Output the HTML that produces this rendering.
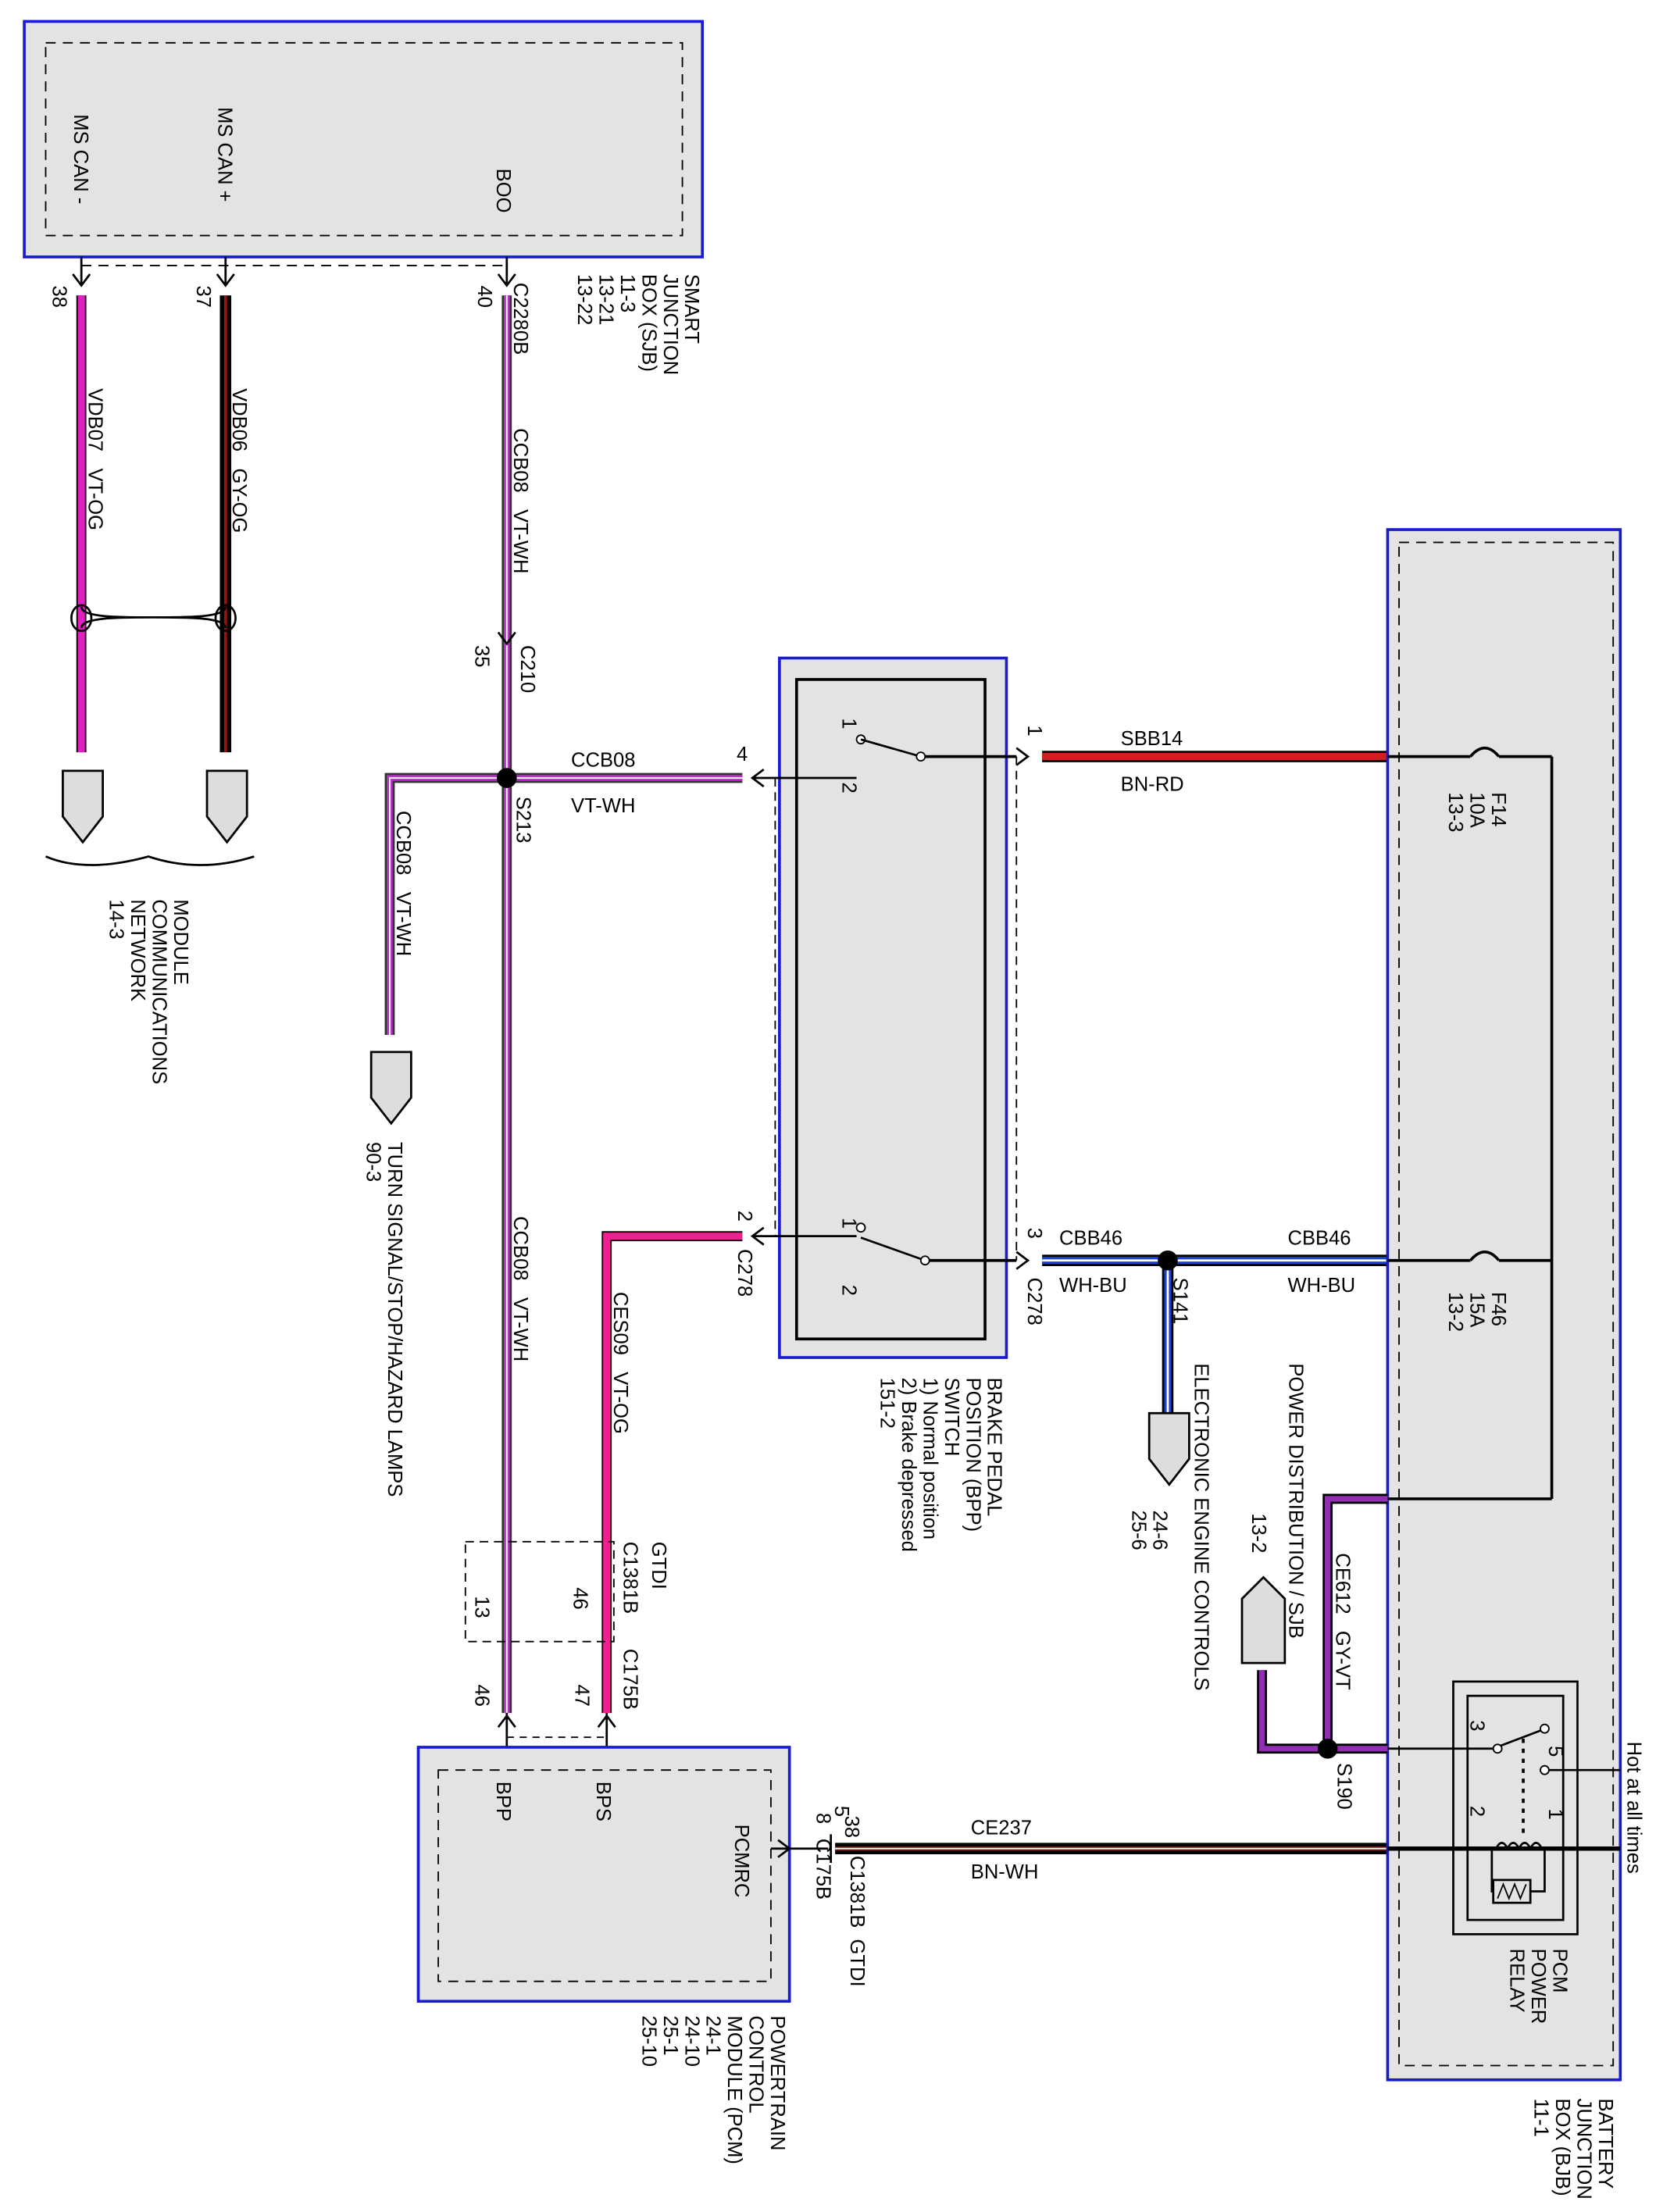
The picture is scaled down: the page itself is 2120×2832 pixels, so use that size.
<!DOCTYPE html>
<html><head><meta charset="utf-8"><style>
html,body{margin:0;padding:0;background:#fff;}
svg{display:block;}
text{font-family:"Liberation Sans",Arial,sans-serif;font-size:14px;fill:#000;white-space:pre;}
</style></head><body>
<svg width="2120" height="2832" viewBox="0 0 1160 1549.6" preserveAspectRatio="none" xmlns="http://www.w3.org/2000/svg">
<defs>
<g id="conn"><path d="M0,0 L28,0 L28,32 L14,50 L0,32 Z" fill="#ddd" stroke="#000" stroke-width="1.5"/></g>
</defs>
<!-- SJB -->
<rect x="17" y="15" width="475" height="165" fill="#e3e3e3" stroke="#1a1ad0" stroke-width="2"/>
<rect x="32" y="30" width="446" height="135" fill="none" stroke="#000" stroke-dasharray="7,5"/>
<line x1="57" y1="186" x2="355" y2="186" stroke="#000" stroke-dasharray="7,5"/>
<line x1="57" y1="180" x2="57" y2="200" stroke="#000" stroke-width="1.5"/>
<line x1="158" y1="180" x2="158" y2="200" stroke="#000" stroke-width="1.5"/>
<line x1="355" y1="180" x2="355" y2="200" stroke="#000" stroke-width="1.5"/>
<path d="M51,192 L57,200 L63,192 M152,192 L158,200 L164,192 M349,192 L355,200 L361,192" fill="none" stroke="#000" stroke-width="1.5"/>
<text transform="translate(52,80) rotate(90)">MS CAN -</text>
<text transform="translate(153,75) rotate(90)">MS CAN +</text>
<text transform="translate(348,118) rotate(90)">BOO</text>
<g transform="translate(480,192) rotate(90)"><text>SMART</text><text y="15">JUNCTION</text><text y="30">BOX (SJB)</text><text y="45">11-3</text><text y="60">13-21</text><text y="75">13-22</text></g>
<text transform="translate(37,200) rotate(90)">38</text>
<text transform="translate(138,200) rotate(90)">37</text>
<text transform="translate(335,200) rotate(90)">40</text>
<text transform="translate(360,198) rotate(90)">C2280B</text>
<!-- wires left -->
<line x1="57" y1="207" x2="57" y2="527" stroke="#000" stroke-width="7"/>
<line x1="57" y1="207" x2="57" y2="527" stroke="#e020c0" stroke-width="5"/>
<line x1="158" y1="207" x2="158" y2="527" stroke="#000" stroke-width="8"/>
<line x1="158" y1="207" x2="158" y2="527" stroke="#a01010" stroke-width="2"/>
<path d="M57,425 C57,440 158,425 158,440 M57,440 C57,425 158,440 158,425" fill="none" stroke="#000" stroke-width="1.5"/>
<ellipse cx="57" cy="433" rx="7" ry="9" fill="none" stroke="#000" stroke-width="1.5"/>
<ellipse cx="158" cy="433" rx="7" ry="9" fill="none" stroke="#000" stroke-width="1.5"/>
<text transform="translate(62,272) rotate(90)">VDB07   VT-OG</text>
<text transform="translate(163,272) rotate(90)">VDB06   GY-OG</text>
<use href="#conn" x="44" y="540"/>
<use href="#conn" x="145" y="540"/>
<path d="M32,600 Q60,612 104,600 Q140,612 178,600" fill="none" stroke="#000" stroke-width="1.5"/>
<g transform="translate(122,630) rotate(90)"><text>MODULE</text><text y="15">COMMUNICATIONS</text><text y="30">NETWORK</text><text y="45">14-3</text></g>
<!-- CCB08 main -->
<line x1="355" y1="207" x2="355" y2="1200" stroke="#333" stroke-width="7"/>
<line x1="355" y1="207" x2="355" y2="1200" stroke="#c030d0" stroke-width="4"/>
<line x1="355" y1="207" x2="355" y2="1200" stroke="#fff" stroke-width="1"/>
<text transform="translate(360,300) rotate(90)">CCB08   VT-WH</text>
<path d="M349,443 L355,451 L361,443" fill="none" stroke="#000" stroke-width="1.5"/>
<text transform="translate(333,452) rotate(90)">35</text>
<text transform="translate(365,452) rotate(90)">C210</text>
<path d="M273,725 L273,545 L520,545" fill="none" stroke="#333" stroke-width="7"/>
<path d="M273,725 L273,545 L520,545" fill="none" stroke="#c030d0" stroke-width="4"/>
<path d="M273,725 L273,545 L520,545" fill="none" stroke="#fff" stroke-width="1"/>
<circle cx="355" cy="545" r="7" fill="#000"/>
<text x="400" y="537">CCB08</text>
<text x="400" y="569">VT-WH</text>
<text transform="translate(362,558) rotate(90)">S213</text>
<text transform="translate(278,568) rotate(90)">CCB08   VT-WH</text>
<use href="#conn" x="260" y="737"/>
<g transform="translate(272,800) rotate(90)"><text>TURN SIGNAL/STOP/HAZARD LAMPS</text><text y="15">90-3</text></g>
<text transform="translate(360,852) rotate(90)">CCB08   VT-WH</text>
<text x="516" y="533">4</text>
<path d="M535,539 L527,545 L535,551" fill="none" stroke="#000" stroke-width="1.5"/>
<!-- BPP switch -->
<rect x="546" y="461" width="159" height="490" fill="#e3e3e3" stroke="#1a1ad0" stroke-width="2"/>
<rect x="558" y="476" width="132" height="462" fill="none" stroke="#000" stroke-width="2"/>
<line x1="543" y1="545" x2="543" y2="866" stroke="#000" stroke-dasharray="6,4"/>
<line x1="712" y1="530" x2="712" y2="883" stroke="#000" stroke-dasharray="6,4"/>
<line x1="527" y1="545" x2="600" y2="545" stroke="#000" stroke-width="1.5"/>
<circle cx="603" cy="518" r="3" fill="#fff" stroke="#000"/>
<line x1="603" y1="518" x2="645" y2="530" stroke="#000" stroke-width="1.5"/>
<circle cx="645" cy="530" r="3" fill="#fff" stroke="#000"/>
<line x1="648" y1="530" x2="712" y2="530" stroke="#000" stroke-width="2"/>
<text transform="translate(590,503) rotate(90)">1</text>
<text transform="translate(590,548) rotate(90)">2</text>
<circle cx="603" cy="860" r="3" fill="#fff" stroke="#000"/>
<line x1="603" y1="867" x2="648" y2="883" stroke="#000" stroke-width="1.5"/>
<circle cx="648" cy="883" r="3" fill="#fff" stroke="#000"/>
<line x1="651" y1="883" x2="712" y2="883" stroke="#000" stroke-width="2"/>
<line x1="527" y1="866" x2="600" y2="866" stroke="#000" stroke-width="1.5"/>
<text transform="translate(590,853) rotate(90)">1</text>
<text transform="translate(590,900) rotate(90)">2</text>
<path d="M712,524 L720,530 L712,536 M712,877 L720,883 L712,889 M535,860 L527,866 L535,872" fill="none" stroke="#000" stroke-width="1.5"/>
<text transform="translate(720,508) rotate(90)">1</text>
<text transform="translate(720,860) rotate(90)">3</text>
<text transform="translate(720,895) rotate(90)">C278</text>
<text transform="translate(517,848) rotate(90)">2</text>
<text transform="translate(517,875) rotate(90)">C278</text>
<g transform="translate(692,965) rotate(90)"><text>BRAKE PEDAL</text><text y="15">POSITION (BPP)</text><text y="30">SWITCH</text><text y="45">1) Normal position</text><text y="60">2) Brake depressed</text><text y="75">151-2</text></g>
<!-- SBB14 -->
<line x1="730" y1="530" x2="972" y2="530" stroke="#000" stroke-width="8"/>
<line x1="730" y1="530" x2="972" y2="530" stroke="#d02020" stroke-width="5"/>
<text x="785" y="522">SBB14</text>
<text x="785" y="554">BN-RD</text>
<!-- CBB46 -->
<line x1="730" y1="883" x2="972" y2="883" stroke="#000" stroke-width="8"/>
<line x1="730" y1="883" x2="972" y2="883" stroke="#2040d0" stroke-width="5"/>
<line x1="730" y1="883" x2="972" y2="883" stroke="#fff" stroke-width="1.5"/>
<line x1="818" y1="883" x2="818" y2="990" stroke="#000" stroke-width="8"/>
<line x1="818" y1="883" x2="818" y2="990" stroke="#2040d0" stroke-width="5"/>
<line x1="818" y1="883" x2="818" y2="990" stroke="#fff" stroke-width="1.5"/>
<circle cx="818" cy="883" r="7" fill="#000"/>
<text x="742" y="872">CBB46</text><text x="742" y="905">WH-BU</text>
<text x="902" y="872">CBB46</text><text x="902" y="905">WH-BU</text>
<text transform="translate(822,895) rotate(90)">S141</text>
<use href="#conn" x="805" y="990"/>
<text transform="translate(837,955) rotate(90)">ELECTRONIC ENGINE CONTROLS</text>
<g transform="translate(808,1058) rotate(90)"><text>24-6</text><text y="15">25-6</text></g>
<!-- CES09 -->
<path d="M520,866 L425,866 L425,1200" fill="none" stroke="#000" stroke-width="7"/>
<path d="M520,866 L425,866 L425,1200" fill="none" stroke="#f02090" stroke-width="5"/>
<text transform="translate(430,905) rotate(90)">CES09   VT-OG</text>
<rect x="326" y="1080" width="104" height="70" fill="none" stroke="#000" stroke-dasharray="6,4"/>
<text transform="translate(333,1118) rotate(90)">13</text>
<text transform="translate(402,1112) rotate(90)">46</text>
<text transform="translate(437,1080) rotate(90)">C1381B</text>
<text transform="translate(457,1080) rotate(90)">GTDI</text>
<text transform="translate(437,1155) rotate(90)">C175B</text>
<text transform="translate(333,1180) rotate(90)">46</text>
<text transform="translate(403,1180) rotate(90)">47</text>
<path d="M349,1210 L355,1202 L361,1210 M419,1210 L425,1202 L431,1210" fill="none" stroke="#000" stroke-width="1.5"/>
<line x1="355" y1="1200" x2="355" y2="1224" stroke="#000" stroke-width="1.5"/>
<line x1="425" y1="1200" x2="425" y2="1224" stroke="#000" stroke-width="1.5"/>
<line x1="355" y1="1217" x2="425" y2="1217" stroke="#000" stroke-dasharray="5,4"/>
<!-- PCM -->
<rect x="293" y="1224" width="260" height="178" fill="#e3e3e3" stroke="#1a1ad0" stroke-width="2"/>
<rect x="307" y="1240" width="233" height="148" fill="none" stroke="#000" stroke-dasharray="7,5"/>
<text transform="translate(348,1248) rotate(90)">BPP</text>
<text transform="translate(418,1248) rotate(90)">BPS</text>
<text transform="translate(515,1278) rotate(90)">PCMRC</text>
<g transform="translate(540,1412) rotate(90)"><text>POWERTRAIN</text><text y="15">CONTROL</text><text y="30">MODULE (PCM)</text><text y="45">24-1</text><text y="60">24-10</text><text y="75">25-1</text><text y="90">25-10</text></g>
<!-- CE237 -->
<line x1="540" y1="1295" x2="580" y2="1295" stroke="#000" stroke-width="1.5"/>
<path d="M545,1289 L553,1295 L545,1301" fill="none" stroke="#000" stroke-width="1.5"/>
<line x1="585" y1="1295" x2="972" y2="1295" stroke="#000" stroke-width="8"/>
<line x1="585" y1="1295" x2="972" y2="1295" stroke="#6a2010" stroke-width="3"/>
<line x1="585" y1="1295" x2="972" y2="1295" stroke="#fff" stroke-width="1"/>
<line x1="582" y1="1285" x2="582" y2="1305" stroke="#000" stroke-width="1.5"/>
<text transform="translate(585,1265) rotate(90)">5</text>
<text transform="translate(592,1272) rotate(90)">38</text>
<text transform="translate(572,1270) rotate(90)">8</text>
<text transform="translate(596,1300) rotate(90)">C1381B  GTDI</text>
<text transform="translate(572,1288) rotate(90)">C175B</text>
<text x="680" y="1285">CE237</text>
<text x="680" y="1316">BN-WH</text>
<!-- BJB -->
<rect x="972" y="371" width="163" height="1086" fill="#e3e3e3" stroke="#1a1ad0" stroke-width="2"/>
<rect x="980" y="380" width="150" height="1067" fill="none" stroke="#000" stroke-dasharray="7,5"/>
<line x1="972" y1="530" x2="1030" y2="530" stroke="#000" stroke-width="2"/>
<path d="M1030,530 Q1040,518 1050,530" fill="none" stroke="#000" stroke-width="2"/>
<line x1="1050" y1="530" x2="1087" y2="530" stroke="#000" stroke-width="2"/>
<line x1="972" y1="883" x2="1030" y2="883" stroke="#000" stroke-width="2"/>
<path d="M1030,883 Q1040,871 1050,883" fill="none" stroke="#000" stroke-width="2"/>
<line x1="1050" y1="883" x2="1087" y2="883" stroke="#000" stroke-width="2"/>
<line x1="1087" y1="530" x2="1087" y2="1050" stroke="#000" stroke-width="2"/>
<line x1="972" y1="1050" x2="1087" y2="1050" stroke="#000" stroke-width="2"/>
<g transform="translate(1045,555) rotate(90)"><text>F14</text><text y="15">10A</text><text y="30">13-3</text></g>
<g transform="translate(1045,905) rotate(90)"><text>F46</text><text y="15">15A</text><text y="30">13-2</text></g>
<!-- CE612 -->
<path d="M972,1050 L930,1050 L930,1225 L972,1225" fill="none" stroke="#000" stroke-width="7"/>
<path d="M972,1050 L930,1050 L930,1225 L972,1225" fill="none" stroke="#9030b0" stroke-width="4"/>
<path d="M930,1225 L884,1225 L884,1170" fill="none" stroke="#000" stroke-width="7"/>
<path d="M930,1225 L884,1225 L884,1170" fill="none" stroke="#9030b0" stroke-width="4"/>
<circle cx="930" cy="1225" r="7" fill="#000"/>
<text transform="translate(936,1088) rotate(90)">CE612   GY-VT</text>
<text transform="translate(937,1235) rotate(90)">S190</text>
<path d="M870,1165 L870,1120 L885,1105 L900,1120 L900,1165 Z" fill="#ddd" stroke="#000" stroke-width="1.5"/>
<text transform="translate(903,955) rotate(90)">POWER DISTRIBUTION / SJB</text>
<text transform="translate(877,1060) rotate(90)">13-2</text>
<!-- relay -->
<rect x="1018" y="1178" width="87" height="177" fill="none" stroke="#000" stroke-width="1.5"/>
<rect x="1028" y="1188" width="67" height="157" fill="none" stroke="#000" stroke-width="1.5"/>
<line x1="972" y1="1225" x2="1047" y2="1225" stroke="#000" stroke-width="1.5"/>
<circle cx="1049" cy="1225" r="3" fill="#fff" stroke="#000"/>
<line x1="1051" y1="1223" x2="1080" y2="1212" stroke="#000" stroke-width="1.5"/>
<circle cx="1082" cy="1211" r="3" fill="#fff" stroke="#000"/>
<circle cx="1082" cy="1240" r="3" fill="#fff" stroke="#000"/>
<line x1="1085" y1="1240" x2="1135" y2="1240" stroke="#000" stroke-width="1.5"/>
<line x1="1067" y1="1218" x2="1067" y2="1285" stroke="#000" stroke-dasharray="3,4" stroke-width="2"/>
<line x1="972" y1="1295" x2="1135" y2="1295" stroke="#000" stroke-width="3"/>
<path d="M1045,1295 L1045,1302 L1045,1325 L1082,1325 L1082,1295" fill="none" stroke="#000" stroke-width="1.5"/>
<path d="M1048,1295 q4,-8 8,0 q4,-8 8,0 q4,-8 8,0 q4,-8 8,0" fill="none" stroke="#000" stroke-width="1.5"/>
<rect x="1046" y="1317" width="26" height="16" fill="#e3e3e3" stroke="#000" stroke-width="1.5"/>
<path d="M1049,1330 l4,-10 l4,10 l4,-10 l4,10 l4,-10" fill="none" stroke="#000" stroke-width="1"/>
<text transform="translate(1030,1205) rotate(90)">3</text>
<text transform="translate(1085,1223) rotate(90)">5</text>
<text transform="translate(1030,1265) rotate(90)">2</text>
<text transform="translate(1085,1267) rotate(90)">1</text>
<g transform="translate(1088,1365) rotate(90)"><text>PCM</text><text y="15">POWER</text><text y="30">RELAY</text></g>
<text transform="translate(1140,1220) rotate(90)">Hot at all times</text>
<g transform="translate(1120,1470) rotate(90)"><text>BATTERY</text><text y="15">JUNCTION</text><text y="30">BOX (BJB)</text><text y="45">11-1</text></g>
</svg>
</body></html>
